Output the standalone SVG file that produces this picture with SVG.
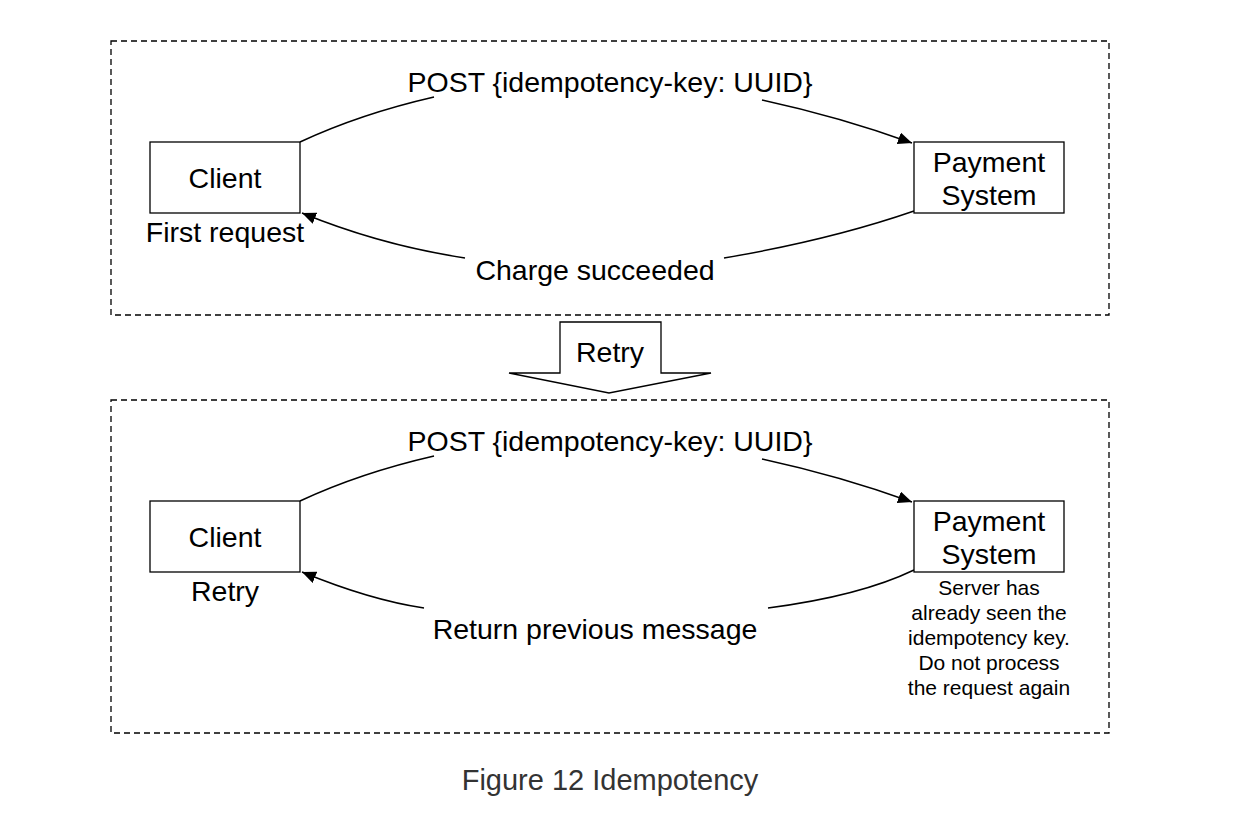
<svg xmlns="http://www.w3.org/2000/svg" width="1244" height="826" viewBox="0 0 1244 826">
<defs>
<marker id="ah" viewBox="0 0 10 10" refX="10" refY="5" markerWidth="14" markerHeight="12" markerUnits="userSpaceOnUse" orient="auto" preserveAspectRatio="none">
<path d="M0,0 L10,5 L0,10 z" fill="#000"/>
</marker>
<style>
.frame{fill:none;stroke:#000;stroke-width:1.3;stroke-dasharray:6 4}
.box{fill:#fff;stroke:#000;stroke-width:1.3}
.t{font-family:"Liberation Sans",Arial,sans-serif;font-size:28.5px;fill:#000;text-anchor:middle}
.s{font-family:"Liberation Sans",Arial,sans-serif;font-size:21px;fill:#000;text-anchor:middle}
.edge{fill:none;stroke:#000;stroke-width:1.5}
.cap{font-family:"Liberation Sans",Arial,sans-serif;font-size:29px;fill:#333;text-anchor:middle}
</style>
</defs>
<rect width="1244" height="826" fill="#fff"/>
<g id="frame-top"><rect class="frame" x="111" y="41" width="998" height="274"/></g>
<g id="frame-bottom"><rect class="frame" x="111" y="400" width="998" height="333"/></g>
<g id="retry-arrow">
<path d="M560,322 L661,322 L661,373 L711,373 L609,393 L509,373 L560,373 Z" fill="#fff" stroke="#000" stroke-width="1.3"/>
<text class="t" x="610" y="362">Retry</text>
</g>
<g id="connectors">
<path class="edge" d="M300,142 Q360,114 434,97"/>
<path class="edge" d="M762,100 Q840,117 912,143" marker-end="url(#ah)"/>
<text class="t" x="610" y="92">POST {idempotency-key: UUID}</text>
<path class="edge" d="M914,211 Q830,240 724,258"/>
<path class="edge" d="M465,258 Q380,245 302,213" marker-end="url(#ah)"/>
<text class="t" x="595" y="280">Charge succeeded</text>
<path class="edge" d="M300,501 Q360,473 434,456"/>
<path class="edge" d="M762,459 Q840,476 912,502" marker-end="url(#ah)"/>
<text class="t" x="610" y="451">POST {idempotency-key: UUID}</text>
<path class="edge" d="M914,570 Q860,596 768,608"/>
<path class="edge" d="M424,608 Q370,600 302,572" marker-end="url(#ah)"/>
<text class="t" x="595" y="639">Return previous message</text>
</g>
<g id="client-1">
<rect class="box" x="150" y="142" width="150" height="71"/>
<text class="t" x="225" y="188">Client</text>
<text class="t" x="225" y="242">First request</text>
</g>
<g id="payment-1">
<rect class="box" x="914" y="142" width="150" height="71"/>
<text class="t" x="989" y="172">Payment</text>
<text class="t" x="989" y="205">System</text>
</g>
<g id="client-2">
<rect class="box" x="150" y="501" width="150" height="71"/>
<text class="t" x="225" y="547">Client</text>
<text class="t" x="225" y="601">Retry</text>
</g>
<g id="payment-2">
<rect class="box" x="914" y="501" width="150" height="71"/>
<text class="t" x="989" y="531">Payment</text>
<text class="t" x="989" y="564">System</text>
<text class="s" x="989" y="595">Server has</text>
<text class="s" x="989" y="620">already seen the</text>
<text class="s" x="989" y="645">idempotency key.</text>
<text class="s" x="989" y="670">Do not process</text>
<text class="s" x="989" y="695">the request again</text>
</g>
<g id="caption"><text class="cap" x="610" y="790">Figure 12 Idempotency</text></g>
</svg>
